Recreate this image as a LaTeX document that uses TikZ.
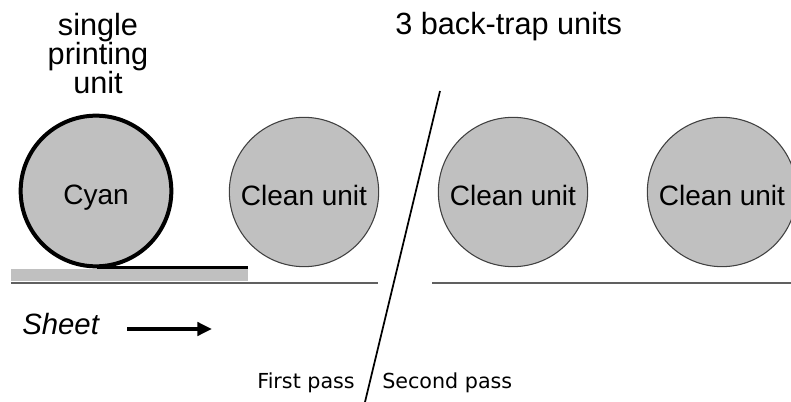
\documentclass[tikz,border=0pt]{standalone}
\usepackage{fontspec}
\setmainfont{Liberation Sans}
\newfontfamily\passfont{DejaVu Sans}
\usetikzlibrary{arrows.meta}
\definecolor{unitfill}{RGB}{192,192,192}
\definecolor{unitline}{RGB}{64,64,64}
\definecolor{feedline}{RGB}{96,96,96}

\begin{document}
\begin{tikzpicture}[x=0.75pt,y=-0.75pt,
  unit/.style={circle,fill=unitfill,draw=unitline,line width=0.8pt,
    minimum size=112pt,inner sep=0pt,text height=20pt,text depth=0pt,
    font=\fontsize{21}{25}\selectfont},
  title/.style={inner sep=0pt,font=\fontsize{23}{21.75}\selectfont},
  passlabel/.style={inner sep=0pt,font=\passfont\fontsize{15.5}{18}\selectfont},
  feed/.style={draw=feedline,line width=1.8pt}]
  \useasboundingbox (0,0) rectangle (791,402);
  \clip (0,0) rectangle (791,402);

  % titles
  \node[title,align=center,anchor=north] (single) at (98,13) {single\\printing\\unit};
  \node[title,anchor=base west] (backtrap) at (395,35) {3 back-trap units};

  % sheet under the printing unit
  \fill[unitfill] (11,269) rectangle (248,281);

  % feed lines, first and second pass
  \coordinate (feedA1) at (11,283);
  \coordinate (feedA2) at (378,283);
  \coordinate (feedB1) at (432,283);
  \coordinate (feedB2) at (791,283);
  \draw[feed] (feedA1) -- (feedA2);
  \draw[feed] (feedB1) -- (feedB2);

  % units
  \node[unit,draw=black,line width=3pt,minimum size=113pt] (cyan) at (96,191) {Cyan};
  \foreach \x/\name in {304/clean1,513/clean2,722/clean3}
    \node[unit] (\name) at (\x,192) {Clean unit};

  % printed part of the sheet
  \coordinate (inkA) at (97,267.5);
  \coordinate (inkB) at (248,267.5);
  \draw[line width=2.6pt] (inkA) -- (inkB);

  % sheet direction
  \node[inner sep=0pt,anchor=base west,font=\itshape\fontsize{22}{26}\selectfont]
    (sheet) at (22,334) {Sheet};
  \coordinate (arrowA) at (127,329);
  \coordinate (arrowB) at (212,329);
  \draw[line width=2.6pt,-{Triangle[length=11pt,width=10pt]}] (arrowA) -- (arrowB);

  % pass divider
  \coordinate (divtop) at (440,91);
  \coordinate (divbot) at (365,402);
  \draw[line width=1.3pt] (divtop) -- (divbot);
  \node[passlabel,anchor=base east] (first) at (355,388) {First pass};
  \node[passlabel,anchor=base west] (second) at (382,388) {Second pass};
\end{tikzpicture}
\end{document}
